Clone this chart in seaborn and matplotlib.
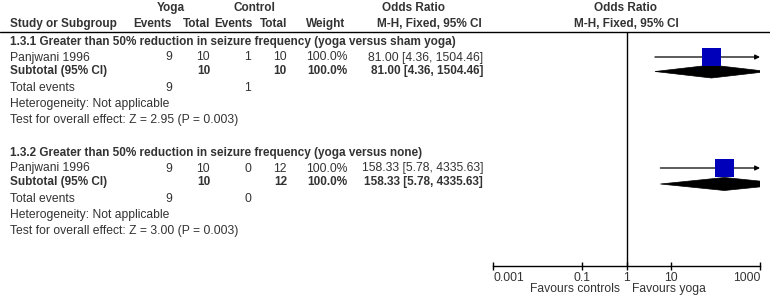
import matplotlib
matplotlib.use("Agg")
import matplotlib.pyplot as plt
import seaborn as sns
import numpy as np
import pandas as pd
from matplotlib.patches import Polygon

# ---------------- data ----------------
subgroups = [
    "1.3.1 Greater than 50% reduction in seizure frequency (yoga versus sham yoga)",
    "1.3.2 Greater than 50% reduction in seizure frequency (yoga versus none)",
]
study_names = ["Panjwani 1996", "Panjwani 1996"]
yoga_events = [9, 9]
yoga_total = [10, 10]
ctrl_events = [1, 0]
ctrl_total = [10, 12]
weights = ["100.0%", "100.0%"]
or_est = [81.00, 158.33]
ci_low = [4.36, 5.78]
ci_high = [1504.46, 4335.63]
z_values = ["2.95", "3.00"]
p_values = ["0.003", "0.003"]
tick_vals = [0.001, 0.1, 1, 10, 1000]
tick_labels = ["0.001", "0.1", "1", "10", "1000"]

# ---------------- style ----------------
sns.set_theme(style="white")
plt.rcParams["font.family"] = ["Liberation Sans", "DejaVu Sans"]
TXT = "#333333"
FS = 8.7
FSB = 8.5
SQ = "#0000BB"

W, H = 770, 304
fig = plt.figure(figsize=(W / 100, H / 100), dpi=100)
fig.patch.set_facecolor("white")

# text layer in pixel coordinates
ax_t = fig.add_axes([0, 0, 1, 1])
ax_t.set_xlim(0, W)
ax_t.set_ylim(H, 0)
ax_t.axis("off")

def txt(x, y, s, ha="left", bold=False):
    ax_t.text(x, y, s, ha=ha, va="center", fontsize=FSB if bold else FS,
              color=TXT, fontweight="bold" if bold else "normal")

# header
txt(171, 8, "Yoga", ha="center", bold=True)
txt(254, 8, "Control", ha="center", bold=True)
txt(414, 8, "Odds Ratio", ha="center", bold=True)
txt(626, 8, "Odds Ratio", ha="center", bold=True)
txt(10, 24, "Study or Subgroup", bold=True)
txt(172, 24, "Events", ha="right", bold=True)
txt(210, 24, "Total", ha="right", bold=True)
txt(253, 24, "Events", ha="right", bold=True)
txt(287, 24, "Total", ha="right", bold=True)
txt(345, 24, "Weight", ha="right", bold=True)
txt(482, 24, "M-H, Fixed, 95% CI", ha="right", bold=True)
txt(626, 24, "M-H, Fixed, 95% CI", ha="center", bold=True)
ax_t.plot([0, W], [31.5, 31.5], color="black", lw=1)

# rows (pixel y of each block)
block_y = [42, 153]
for i in range(2):
    y0 = block_y[i]
    ys = y0 + 15.5   # study row
    yt = y0 + 29     # subtotal row
    txt(10, y0, subgroups[i], bold=True)
    txt(10, ys, study_names[i])
    txt(172, ys, str(yoga_events[i]), ha="right")
    txt(210, ys, str(yoga_total[i]), ha="right")
    txt(251, ys, str(ctrl_events[i]), ha="right")
    txt(287, ys, str(ctrl_total[i]), ha="right")
    txt(347, ys, weights[i], ha="right")
    ci_str = f"{or_est[i]:.2f} [{ci_low[i]:.2f}, {ci_high[i]:.2f}]"
    txt(483, ys, ci_str, ha="right")
    txt(10, yt, "Subtotal (95% CI)", bold=True)
    txt(210, yt, str(yoga_total[i]), ha="right", bold=True)
    txt(287, yt, str(ctrl_total[i]), ha="right", bold=True)
    txt(347, yt, weights[i], ha="right", bold=True)
    txt(483, yt, ci_str, ha="right", bold=True)
    txt(10, y0 + 46, "Total events")
    txt(172, y0 + 46, str(yoga_events[i]), ha="right")
    txt(251, y0 + 46, str(ctrl_events[i]), ha="right")
    txt(10, y0 + 62, "Heterogeneity: Not applicable")
    txt(10, y0 + 78, f"Test for overall effect: Z = {z_values[i]} (P = {p_values[i]})")

# ---------------- forest axes ----------------
x0, x1, ytop, ybot = 493, 760, 31.5, 266
ax = fig.add_axes([x0 / W, (H - ybot) / H, (x1 - x0) / W, (ybot - ytop) / H])
ax.set_facecolor("none")
ax.set_xscale("log")
ax.set_xlim(1e-3, 1e3)
ax.set_ylim(ybot, ytop)
for s in ["top", "left", "right"]:
    ax.spines[s].set_visible(False)
ax.spines["bottom"].set_color("black")
ax.spines["bottom"].set_linewidth(1)
ax.set_yticks([])
ax.axvline(1, color="black", lw=1)

study_y = [block_y[0] + 15, block_y[1] + 15]
sub_y = [block_y[0] + 29.5, block_y[1] + 31]
df = pd.DataFrame({"or": or_est, "y": study_y})

for i in range(2):
    lo, hi = ci_low[i], ci_high[i]
    if hi > 1e3:
        ax.annotate("", xy=(1e3, study_y[i]), xytext=(lo, study_y[i]),
                    arrowprops=dict(arrowstyle="-|>", color="black", lw=0.9,
                                    mutation_scale=7, shrinkA=0, shrinkB=0))
    else:
        ax.plot([lo, hi], [study_y[i]] * 2, color="black", lw=0.9)
    # diamond
    dh = 6.5
    poly = Polygon([(lo, sub_y[i]), (or_est[i], sub_y[i] - dh),
                    (hi, sub_y[i]), (or_est[i], sub_y[i] + dh)],
                   closed=True, facecolor="black", edgecolor="black", lw=0.5,
                   clip_on=True)
    ax.add_patch(poly)

sns.scatterplot(data=df, x="or", y="y", marker="s", s=175, color=SQ,
                edgecolor="none", ax=ax, legend=False, zorder=3)
ax.set_xlabel("")
ax.set_ylabel("")

ax.set_xticks(tick_vals)
ax.set_xticklabels(tick_labels)
ax.xaxis.set_minor_locator(matplotlib.ticker.NullLocator())
ax.tick_params(axis="x", which="major", direction="inout", length=6, width=1,
               color="black", labelsize=FS, labelcolor=TXT, pad=1.5, bottom=True)
labs = ax.get_xticklabels()
labs[0].set_horizontalalignment("left")
labs[-1].set_horizontalalignment("right")

txt(620, 289, "Favours controls", ha="right")
txt(632, 289, "Favours yoga", ha="left")

fig.savefig("out.png", dpi=100, facecolor="white")
